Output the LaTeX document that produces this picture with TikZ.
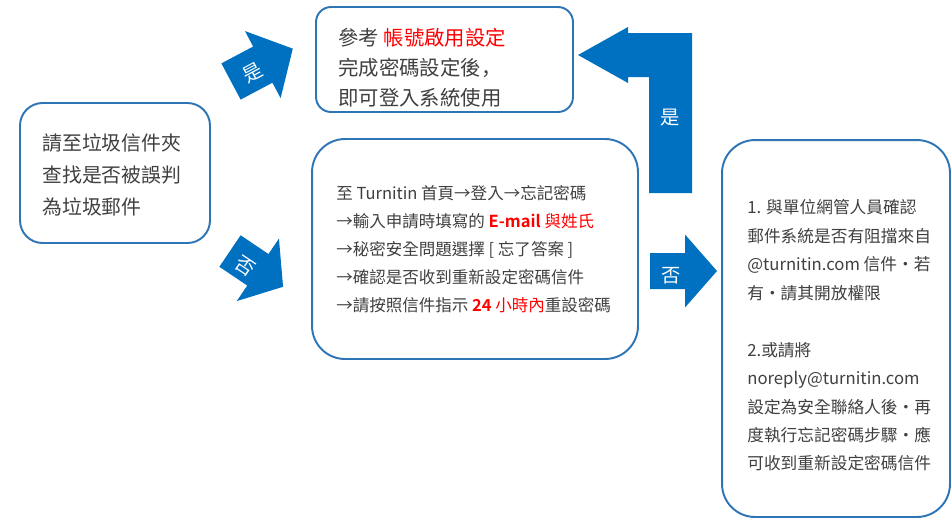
\documentclass[tikz,border=0pt]{standalone}
\usepackage{fontspec}
\setmainfont{Noto Sans CJK TC}[BoldFont={Noto Sans CJK TC Bold}]
\newfontfamily\scfont{Noto Sans CJK SC}
\definecolor{boxblue}{HTML}{2E75B6}
\definecolor{arrowblue}{HTML}{0070C0}
\definecolor{textgray}{HTML}{404040}
\newcommand{\arrowbody}[4]{(0,-#2) -- (#1-#4,-#2) -- (#1-#4,-#3) -- (#1,0) -- (#1-#4,#3) -- (#1-#4,#2) -- (0,#2) -- cycle}

\begin{document}
\begin{tikzpicture}[x=0.02cm, y=-0.02cm,
    box/.style={draw=boxblue, line width=1.1pt, fill=white},
    boxtext/.style={anchor=west, align=left, inner sep=0pt, text=textgray},
    blockarrow/.style={fill=arrowblue},
    arrowlabel/.style={text=white, inner sep=0pt, font=\fontsize{11pt}{13pt}\selectfont}]
    \useasboundingbox (0,0) rectangle (952,525);

    % boxes
    \node[box, rounded corners=0.45cm, minimum width=3.8cm, minimum height=2.8cm] (junk) at (115,173) {};
    \node[box, rounded corners=0.3cm, minimum width=5.14cm, minimum height=2.1cm] (login) at (444.5,59.5) {};
    \node[box, rounded corners=0.66cm, minimum width=6.52cm, minimum height=4.4cm] (reset) at (475,249) {};
    \node[box, rounded corners=0.66cm, minimum width=4.56cm, minimum height=7.54cm] (admin) at (836,328.5) {};

    % texts
    \node[boxtext, font=\fontsize{11.3pt}{18pt}\selectfont] (junktext) at (42,175)
        {請至垃圾信件夾\\查找是否被誤判\\為垃圾郵件};
    \node[boxtext, font=\fontsize{11.6pt}{17pt}\selectfont] (logintext) at (338,68)
        {參考 \textcolor{red}{帳號啟用設定}\\完成密碼設定後{\scfont ，}\\即可登入系統使用};
    \node[boxtext, font=\fontsize{9.4pt}{15.9pt}\selectfont] (resettext) at (336,249)
        {至 Turnitin 首頁→登入→忘記密碼\\
         →輸入申請時填寫的 \textcolor{red}{\textbf{E-mail} 與姓氏}\\
         →秘密安全問題選擇 [ 忘了答案 ]\\
         →確認是否收到重新設定密碼信件\\
         →請按照信件指示 \textcolor{red}{\textbf{24} 小時內}重設密碼};
    \node[boxtext, font=\fontsize{9.5pt}{16.2pt}\selectfont] (admintext) at (747,335.5)
        {1. 與單位網管人員確認\\
         郵件系統是否有阻擋來自\\
         @turnitin.com 信件·若\\
         有·請其開放權限\\[16.2pt]
         2.或請將\\
         noreply@turnitin.com\\
         設定為安全聯絡人後·再\\
         度執行忘記密碼步驟·應\\
         可收到重新設定密碼信件};

    % arrows
    \fill[blockarrow, shift={(231,81.5)}, rotate=28] \arrowbody{70}{20.5}{38}{34};
    \node[arrowlabel, rotate=28] (yes1) at (253,73) {是};

    \fill[blockarrow, shift={(230,251)}, rotate=-34] \arrowbody{64}{19}{37.7}{30.4};
    \node[arrowlabel, rotate=-34] (no1) at (245,266) {否};

    \fill[blockarrow] (649,193) -- (649,77) -- (628,77) -- (628,83) -- (578,55)
        -- (628,27) -- (628,33) -- (692,33) -- (692,193) -- cycle;
    \node[arrowlabel] (yes2) at (670,118) {是};

    \fill[blockarrow, shift={(650,271)}] \arrowbody{67}{18}{36.5}{32};
    \node[arrowlabel] (no2) at (671,276) {否};
\end{tikzpicture}
\end{document}
